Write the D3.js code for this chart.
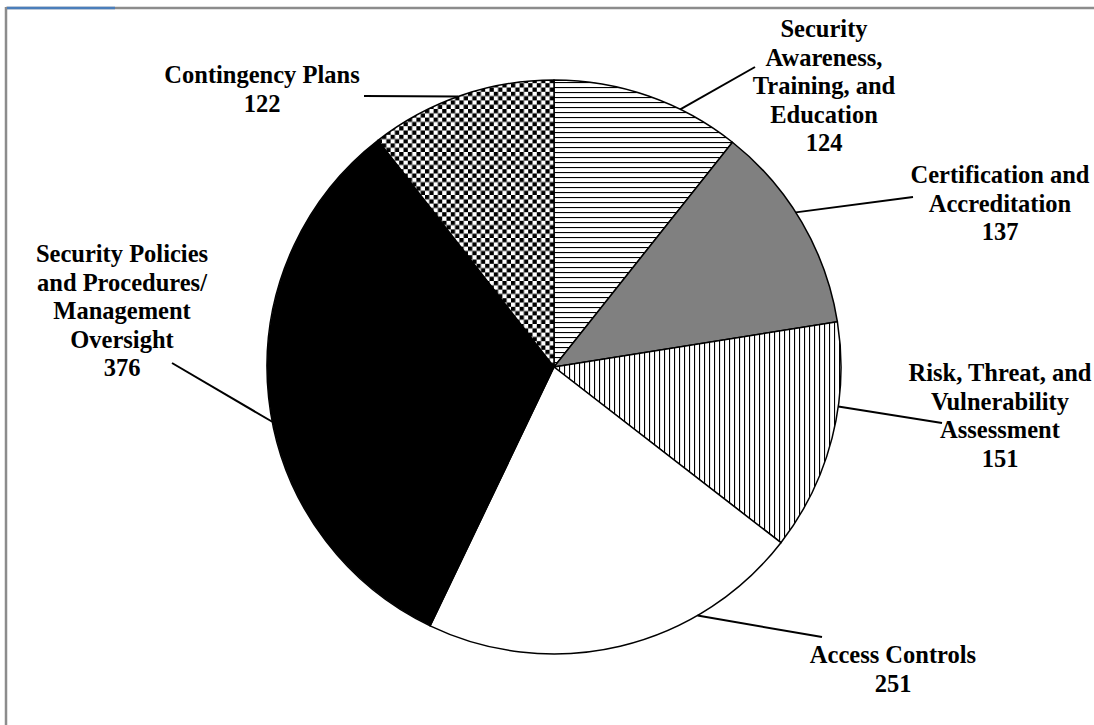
<!DOCTYPE html>
<html><head><meta charset="utf-8">
<script src="https://cdn.jsdelivr.net/npm/d3@7"></script>
<style>
html,body{margin:0;padding:0;background:#fff;}
svg{display:block;}
text{font-family:"Liberation Serif","Times New Roman",serif;font-weight:bold;fill:#000;}
</style></head>
<body>
<svg id="chart" width="1094" height="725"></svg>
<script>
// ---- data ----
const categories = [
  "Security Awareness, Training, and Education",
  "Certification and Accreditation",
  "Risk, Threat, and Vulnerability Assessment",
  "Access Controls",
  "Security Policies and Procedures/ Management Oversight",
  "Contingency Plans"
];
const values = [124, 137, 151, 251, 376, 122];
const labelLines = [
  ["Security", "Awareness,", "Training, and", "Education"],
  ["Certification and", "Accreditation"],
  ["Risk, Threat, and", "Vulnerability", "Assessment"],
  ["Access Controls"],
  ["Security Policies", "and Procedures/", "Management", "Oversight"],
  ["Contingency Plans"]
];
const fills = ["hstripe", "gray", "vstripe", "white", "black", "checker"];

// ---- layout (positions only) ----
const cx = 554, cy = 367, R = 287;
const lineH = 28.6;
const labelPos = [ // center x, first baseline y
  {x: 824, y: 37}, {x: 1000, y: 183}, {x: 1000, y: 381},
  {x: 893, y: 663}, {x: 122, y: 262}, {x: 262, y: 83}
];
const leaderAngle = [26.1, 57.4, 97.9, 150, 259, 340.5]; // degrees on rim
const leaderEnd = [[755, 67], [913, 197], [942, 423], [822, 637], [172, 363], [364, 96]];

const svg = d3.select("#chart");
const defs = svg.append("defs");

// patterns
const ph = defs.append("pattern").attr("id", "hstripe").attr("patternUnits", "userSpaceOnUse")
  .attr("width", 8).attr("height", 5);
ph.append("rect").attr("width", 8).attr("height", 5).attr("fill", "#fff");
ph.append("rect").attr("y", 0).attr("width", 8).attr("height", 1.1).attr("fill", "#000");

const pv = defs.append("pattern").attr("id", "vstripe").attr("patternUnits", "userSpaceOnUse")
  .attr("width", 5).attr("height", 8);
pv.append("rect").attr("width", 5).attr("height", 8).attr("fill", "#fff");
pv.append("rect").attr("x", 0).attr("width", 1.1).attr("height", 8).attr("fill", "#000");

const pc = defs.append("pattern").attr("id", "checker").attr("patternUnits", "userSpaceOnUse")
  .attr("width", 8.6).attr("height", 8.6);
pc.append("rect").attr("width", 8.6).attr("height", 8.6).attr("fill", "#fff");
pc.append("rect").attr("width", 4.3).attr("height", 4.3).attr("fill", "#000");
pc.append("rect").attr("x", 4.3).attr("y", 4.3).attr("width", 4.3).attr("height", 4.3).attr("fill", "#000");

const fillOf = f => f === "gray" ? "#808080" : f === "white" ? "#ffffff" : f === "black" ? "#000000" : `url(#${f})`;

// frame
svg.append("line").attr("x1", 6).attr("y1", 8).attr("x2", 1094).attr("y2", 8)
  .attr("stroke", "#8c8c8c").attr("stroke-width", 2.5);
svg.append("line").attr("x1", 6).attr("y1", 7).attr("x2", 6).attr("y2", 725)
  .attr("stroke", "#8c8c8c").attr("stroke-width", 2.5);
svg.append("line").attr("x1", 7).attr("y1", 8).attr("x2", 115).attr("y2", 8)
  .attr("stroke", "#4a7ebb").attr("stroke-width", 2.5);

// pie
const pie = d3.pie().sort(null).value(d => d.value);
const arc = d3.arc().innerRadius(0).outerRadius(R);
const data = categories.map((c, i) => ({cat: c, value: values[i], fill: fills[i], i}));
const arcs = pie(data);

const g = svg.append("g").attr("transform", `translate(${cx},${cy})`);
g.selectAll("path.slice").data(arcs).join("path")
  .attr("class", "slice")
  .attr("d", arc)
  .attr("fill", d => fillOf(d.data.fill))
  .attr("stroke", "#000").attr("stroke-width", 1.5).attr("stroke-linejoin", "round");

// leader lines
arcs.forEach((a, i) => {
  const t = leaderAngle[i] * Math.PI / 180;
  const sx = cx + R * Math.sin(t), sy = cy - R * Math.cos(t);
  svg.append("line").attr("x1", sx).attr("y1", sy)
    .attr("x2", leaderEnd[i][0]).attr("y2", leaderEnd[i][1])
    .attr("stroke", "#000").attr("stroke-width", 2);
});

// labels
arcs.forEach((a, i) => {
  const lines = labelLines[i].concat([String(a.data.value)]);
  const t = svg.append("text").attr("text-anchor", "middle").attr("font-size", "24.5px");
  lines.forEach((ln, k) => {
    t.append("tspan").attr("x", labelPos[i].x).attr("y", labelPos[i].y + k * lineH).text(ln);
  });
});
</script>
</body></html>
